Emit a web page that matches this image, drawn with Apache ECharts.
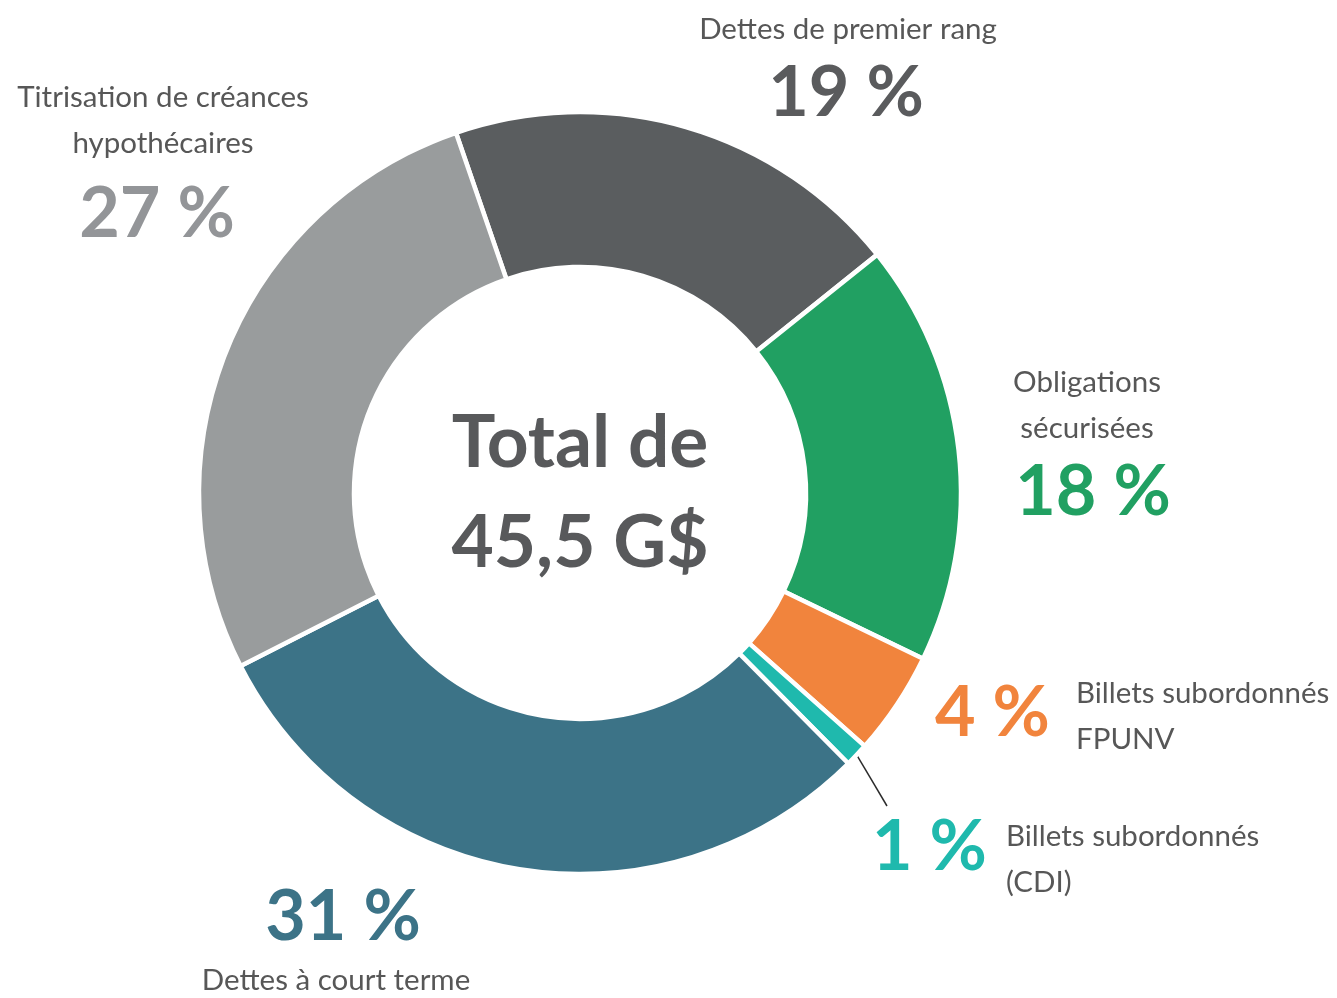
<!DOCTYPE html>
<html><head><meta charset="utf-8">
<script src="https://cdn.jsdelivr.net/npm/echarts@6/dist/echarts.min.js"></script>
<style>html,body{margin:0;padding:0;background:#fff}#c{width:1337px;height:998px}</style>
</head><body><div id="c"></div>
<script>
// ---- data ----
const categories = ['Dettes de premier rang', 'Obligations\nsécurisées', 'Billets subordonnés\nFPUNV', 'Billets subordonnés\n(CDI)', 'Dettes à court terme', 'Titrisation de créances\nhypothécaires'];
const shares = [19.5, 17.9, 4.4, 1.0, 29.9, 27.2];          // slice sizes measured from the arcs (% of total)
const pctLabels = ['19 %', '18 %', '4 %', '1 %', '31 %', '27 %']; // printed percentages
const totalLabel = 'Total de\n45,5 G$';

// ---- styles & label placement ----
const sliceColors = ['#5a5d5f', '#21a062', '#f1843d', '#1fb9ad', '#3c7387', '#999c9d'];
const pctColors   = ['#5a5b5d', '#21a062', '#f1843d', '#1fb9ad', '#3c7387', '#939598'];
const pctPos  = [[846, 93, 'center'], [1093, 492, 'center'], [935, 713, 'left'], [872, 847, 'left'], [343, 917, 'center'], [157, 214, 'center']];
const namePos = [[848, 29, 'center'], [1087, 405, 'center'], [1076, 716, 'left'], [1006, 859, 'left'], [336, 980, 'center'], [163, 120, 'center']];
const leaderEndOffset = [15, -41]; // end of the leader line relative to the "1 %" label anchor
const FONT = 'Lato, "Open Sans", sans-serif';

const chart = echarts.init(document.getElementById('c'), null, {renderer: 'canvas'});

const mainData = categories.map((c, i) => {
  const item = {
    name: c, value: shares[i],
    itemStyle: {color: sliceColors[i]},
    label: {color: pctColors[i]}
  };
  if (i === 3) item.labelLine = {show: true, lineStyle: {color: '#2b2b2b', width: 1.5}};
  return item;
});
const nameData = categories.map((c, i) => ({name: c, value: shares[i]}));

const common = {
  type: 'pie',
  center: [580, 493],
  radius: [226, 381],
  startAngle: 109,
  clockwise: true,
  avoidLabelOverlap: false,
  animation: false,
  emphasis: {disabled: true},
  tooltip: {show: false}
};

chart.setOption({
  backgroundColor: '#ffffff',
  graphic: [{
    type: 'text', x: 580, y: 493, silent: true,
    style: {text: totalLabel, fill: '#58595b', fontFamily: FONT, fontWeight: 'bold', fontSize: 73, lineHeight: 100, align: 'center', verticalAlign: 'middle'}
  }],
  series: [
    Object.assign({}, common, {
      name: 'parts',
      itemStyle: {borderColor: '#ffffff', borderWidth: 4.5},
      label: {show: true, position: 'outside', fontFamily: FONT, fontWeight: 'bold', fontSize: 70,
        formatter: p => pctLabels[p.dataIndex]},
      labelLine: {show: false, length: 10, length2: 10},
      labelLayout: p => {
        const pos = pctPos[p.dataIndex];
        const out = {x: pos[0], y: pos[1], align: pos[2], verticalAlign: 'middle'};
        if (p.dataIndex === 3 && p.labelLinePoints && p.labelLinePoints.length) {
          const s = p.labelLinePoints[0];
          const e = [pos[0] + leaderEndOffset[0], pos[1] + leaderEndOffset[1]];
          out.labelLinePoints = [s, [(s[0] + e[0]) / 2, (s[1] + e[1]) / 2], e];
        }
        return out;
      },
      data: mainData
    }),
    Object.assign({}, common, {
      name: 'noms', silent: true, z: 1,
      itemStyle: {color: 'rgba(0,0,0,0)', borderWidth: 0},
      label: {show: true, position: 'outside', fontFamily: FONT, fontSize: 29.5, lineHeight: 46, color: '#575757',
        formatter: p => p.name},
      labelLine: {show: false},
      labelLayout: p => ({x: namePos[p.dataIndex][0], y: namePos[p.dataIndex][1], align: namePos[p.dataIndex][2], verticalAlign: 'middle'}),
      data: nameData
    })
  ]
});
</script></body></html>
